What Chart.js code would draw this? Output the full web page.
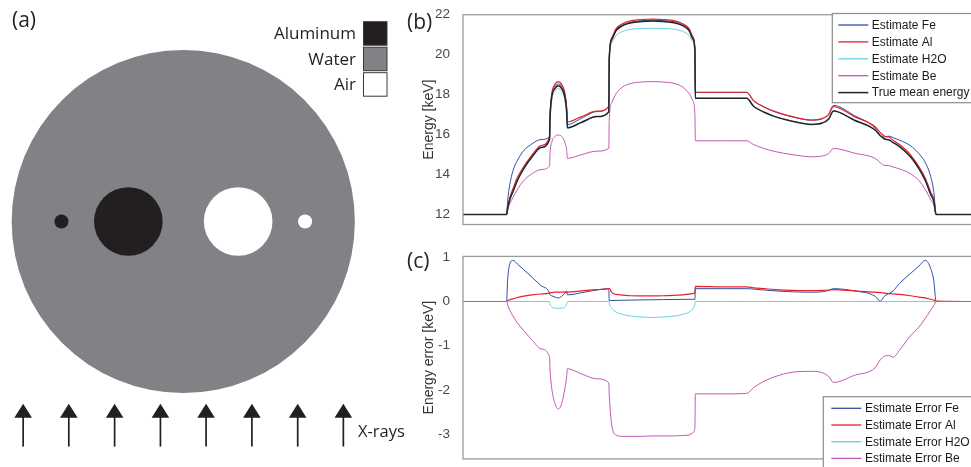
<!DOCTYPE html>
<html>
<head>
<meta charset="utf-8">
<script src="https://cdn.jsdelivr.net/npm/chart.js@4.4.0/dist/chart.umd.min.js"></script>
<style>
html, body { margin: 0; padding: 0; background: #fff; overflow: hidden; width: 971px; height: 467px; }
canvas { position: absolute; }
#phantom { left: 0; top: 0; z-index: 2; }
#energy { left: 400px; top: 0; }
#error { left: 400px; top: 240px; }
</style>
</head>
<body>
<canvas id="energy" width="590" height="240"></canvas>
<canvas id="error" width="590" height="232"></canvas>
<canvas id="phantom" width="430" height="467"></canvas>
<script>
// ---- panel (a): phantom geometry (phantom radius = 10 units) ----
var phantomRadius = 10;
var insertX = [-7.1, -3.2, 3.2, 7.1];
var insertR = [0.41, 2.0, 2.0, 0.41];
var insertMaterial = ['Aluminum', 'Aluminum', 'Air', 'Air'];
var materials = ['Aluminum', 'Water', 'Air'];
var arrowX = [-9.33, -6.67, -4.0, -1.33, 1.33, 4.0, 6.67, 9.33];
var arrowTip = -10.63;
var arrowTail = -13.12;

// ---- panels (b) and (c): detector position ----
var position = [-12.5, -10.0, -9.95, -9.85, -9.7, -9.5, -9.2, -8.8, -8.4, -8.0,
    -7.98, -7.9, -7.75, -7.59, -7.43, -7.28, -7.2, -7.17,
    -6.5, -5.8, -5.24,
    -5.22, -5.1, -4.9, -4.6, -4.2, -3.7, -3.2, -2.7, -2.2, -1.8, -1.5, -1.33, -1.23,
    -1.21, 0.0, 1.18,
    1.5, 2.0, 2.5, 3.3, 4.2, 4.7, 5.0, 5.22,
    6.2, 7.16,
    7.4, 7.6, 7.8, 8.0,
    8.3, 8.8, 9.2, 9.5, 9.75, 9.9, 10.0, 12.5];

var energyFe = [12, 12, 12.7, 13.5, 14.2, 14.7, 15.2, 15.55, 15.75, 15.9,
    16.85, 17.97, 18.4, 18.53, 18.4, 17.97, 17.25, 16.5,
    16.82, 17.15, 17.41,
    19.78, 20.78, 21.23, 21.48, 21.63, 21.7, 21.72, 21.7, 21.65, 21.5, 21.25, 20.85, 20.25,
    18.11, 18.11, 18.11,
    17.7, 17.38, 17.14, 16.89, 16.72, 16.8, 17.02, 17.46,
    16.95, 16.33,
    15.95, 15.88, 15.92, 15.85,
    15.72, 15.45, 15.05, 14.6, 13.9, 13.1, 12, 12];
var energyAl = [12, 12, 12.4, 12.85, 13.3, 13.85, 14.4, 15.0, 15.45, 15.9,
    16.8, 18.0, 18.5, 18.65, 18.5, 18.05, 17.3, 16.63,
    16.9, 17.17, 17.4,
    19.9, 20.85, 21.3, 21.55, 21.7, 21.76, 21.78, 21.76, 21.7, 21.55, 21.3, 20.9, 20.3,
    18.12, 18.12, 18.12,
    17.7, 17.37, 17.15, 16.9, 16.73, 16.8, 17.0, 17.4,
    16.9, 16.39,
    16.1, 15.92, 15.88, 15.72,
    15.5, 15.0, 14.4, 13.82, 13.12, 12.75, 12, 12];
var energyH2O = [12, 12, 12.3, 12.75, 13.15, 13.7, 14.3, 14.9, 15.35, 15.76,
    16.6, 17.7, 18.15, 18.3, 18.15, 17.7, 17.0, 16.34,
    16.62, 16.9, 17.13,
    19.7, 20.6, 20.96, 21.16, 21.27, 21.31, 21.32, 21.31, 21.27, 21.16, 20.96, 20.65, 20.1,
    17.82, 17.82, 17.82,
    17.42, 17.12, 16.9, 16.67, 16.51, 16.58, 16.78, 17.18,
    16.72, 16.23,
    15.95, 15.78, 15.74, 15.6,
    15.4, 14.9, 14.3, 13.7, 13.0, 12.65, 12, 12];
var energyBe = [12, 12, 12.25, 12.55, 12.85, 13.25, 13.7, 14.05, 14.25, 14.43,
    15.0, 15.6, 15.9, 15.98, 15.9, 15.6, 15.2, 14.81,
    15.0, 15.17, 15.31,
    16.7, 17.6, 18.05, 18.38, 18.56, 18.63, 18.65, 18.63, 18.56, 18.38, 18.05, 17.7, 17.0,
    15.69, 15.69, 15.69,
    15.5, 15.3, 15.15, 15.0, 14.89, 14.93, 15.05, 15.31,
    15.07, 14.81,
    14.6, 14.46, 14.45, 14.38,
    14.28, 14.05, 13.7, 13.25, 12.75, 12.45, 12, 12];
var energyTrue = [12, 12, 12.3, 12.75, 13.15, 13.7, 14.3, 14.9, 15.35, 15.76,
    16.7, 17.85, 18.3, 18.45, 18.3, 17.85, 17.1, 16.34,
    16.62, 16.9, 17.13,
    19.75, 20.75, 21.2, 21.45, 21.6, 21.66, 21.68, 21.66, 21.6, 21.45, 21.2, 20.8, 20.2,
    17.82, 17.82, 17.82,
    17.42, 17.12, 16.9, 16.67, 16.51, 16.58, 16.78, 17.18,
    16.72, 16.23,
    15.95, 15.78, 15.74, 15.6,
    15.4, 14.9, 14.3, 13.7, 13.0, 12.65, 12, 12];

var errorFe = [0, 0, 0.5, 0.85, 0.93, 0.85, 0.72, 0.54, 0.36, 0.19,
    0.15, 0.13, 0.1, 0.08, 0.12, 0.19, 0.24, 0.15,
    0.2, 0.26, 0.29,
    0.02, 0.022, 0.025, 0.028, 0.032, 0.036, 0.04, 0.043, 0.046, 0.048, 0.05, 0.05, 0.05,
    0.29, 0.29, 0.29,
    0.28, 0.26, 0.24, 0.22, 0.21, 0.22, 0.25, 0.29,
    0.24, 0.12,
    0.01, 0.12, 0.18, 0.24,
    0.41, 0.63, 0.8, 0.93, 0.75, 0.45, 0, 0];
var errorAl = [0, 0, 0.02, 0.04, 0.06, 0.09, 0.12, 0.15, 0.17, 0.19,
    0.2, 0.2, 0.21, 0.21, 0.21, 0.21, 0.21, 0.21,
    0.24, 0.27, 0.29,
    0.3, 0.2, 0.16, 0.145, 0.13, 0.125, 0.125, 0.13, 0.14, 0.15, 0.165, 0.18, 0.2,
    0.34, 0.33, 0.33,
    0.31, 0.29, 0.27, 0.25, 0.245, 0.25, 0.26, 0.27,
    0.24, 0.21,
    0.2, 0.19, 0.18, 0.17,
    0.16, 0.13, 0.1, 0.08, 0.05, 0.03, 0.01, 0];
var errorH2O = [0, 0, 0, 0, 0, 0, 0, 0, 0, 0,
    -0.06, -0.12, -0.15, -0.155, -0.15, -0.12, -0.06, 0,
    0, 0, 0,
    -0.05, -0.15, -0.24, -0.29, -0.33, -0.35, -0.36, -0.35, -0.33, -0.29, -0.24, -0.17, -0.06,
    0, 0, 0,
    0, 0, 0, 0, 0, 0, 0, 0,
    0, 0,
    0, 0, 0, 0,
    0, 0, 0, 0, 0, 0, 0, 0];
var errorBe = [0, 0, -0.08, -0.2, -0.33, -0.48, -0.66, -0.88, -1.07, -1.25,
    -1.5, -1.95, -2.3, -2.43, -2.3, -1.95, -1.7, -1.52,
    -1.64, -1.75, -1.84,
    -2.1, -2.8, -3.02, -3.05, -3.05, -3.05, -3.04, -3.04, -3.04, -3.03, -3.02, -2.97, -2.85,
    -2.09, -2.09, -2.08,
    -1.95, -1.8, -1.7, -1.6, -1.58, -1.61, -1.7, -1.83,
    -1.67, -1.5,
    -1.32, -1.24, -1.22, -1.26,
    -1.1, -0.78, -0.58, -0.38, -0.2, -0.09, 0, 0];

var energyTicks = [12, 14, 16, 18, 20, 22];
var errorTicks = [-3, -2, -1, 0, 1];
var energyLabels = ['Estimate Fe', 'Estimate Al', 'Estimate H2O', 'Estimate Be', 'True mean energy'];
var errorLabels = ['Estimate Error Fe', 'Estimate Error Al', 'Estimate Error H2O', 'Estimate Error Be'];

var colors = ['#2d4fa3', '#e8202a', '#62d2e8', '#c357b2', '#1d2628'];
var widths = [1, 1.2, 1, 1, 1.5];
var materialColor = { Aluminum: '#231f20', Water: '#808285', Air: '#ffffff' };
var axisFont = '"Liberation Sans", Arial, sans-serif';
var figFont = '"Open Sans", "Noto Sans", sans-serif';

Chart.defaults.font.family = axisFont;

function toPoints(values) {
    return position.map(function (x, i) { return { x: x, y: values[i] }; });
}

function radiusPx(c) {
    if (!c.raw) return 0;
    var s = c.chart.scales.x;
    return Math.abs(s.getPixelForValue(c.raw.r) - s.getPixelForValue(0));
}

// ---- panel (a) ----
var phantomDecor = {
    id: 'phantomDecor',
    afterDatasetsDraw: function (chart) {
        var ctx = chart.ctx, sx = chart.scales.x, sy = chart.scales.y;
        ctx.save();
        ctx.fillStyle = '#231f20';
        ctx.strokeStyle = '#231f20';
        ctx.lineWidth = 1.7;
        var tip = sy.getPixelForValue(arrowTip), tail = sy.getPixelForValue(arrowTail);
        arrowX.forEach(function (ax) {
            var px = sx.getPixelForValue(ax);
            ctx.beginPath();
            ctx.moveTo(px, tip + 12);
            ctx.lineTo(px, tail);
            ctx.stroke();
            ctx.beginPath();
            ctx.moveTo(px, tip);
            ctx.lineTo(px + 8.8, tip + 14);
            ctx.lineTo(px - 8.8, tip + 14);
            ctx.closePath();
            ctx.fill();
        });
        ctx.font = '16.5px ' + figFont;
        ctx.textBaseline = 'alphabetic';
        ctx.textAlign = 'left';
        ctx.fillText('X-rays', 358, 437);
        ctx.font = '21px ' + figFont;
        ctx.fillText('(a)', 12, 27);
        // material legend
        ctx.font = '17px ' + figFont;
        ctx.textAlign = 'right';
        materials.forEach(function (m, i) {
            var top = 21.7 + i * 25.5;
            ctx.fillStyle = materialColor[m];
            ctx.fillRect(363.5, top, 23.5, 23.5);
            ctx.strokeStyle = '#3a3a3a';
            ctx.lineWidth = 1;
            ctx.strokeRect(363.5, top, 23.5, 23.5);
            ctx.fillStyle = '#231f20';
            ctx.fillText(m, 356, top + 17.5);
        });
        ctx.restore();
    }
};

new Chart(document.getElementById('phantom'), {
    type: 'scatter',
    data: {
        datasets: [{
            label: 'Inserts',
            data: insertX.map(function (x, i) { return { x: x, y: 0, r: insertR[i] }; }),
            pointBackgroundColor: insertMaterial.map(function (m) { return materialColor[m]; }),
            pointRadius: radiusPx,
            pointBorderWidth: 0,
            order: 0
        }, {
            label: 'Water',
            data: [{ x: 0, y: 0, r: phantomRadius }],
            pointBackgroundColor: materialColor.Water,
            pointRadius: radiusPx,
            pointBorderWidth: 0,
            order: 1
        }]
    },
    options: {
        responsive: false,
        animation: false,
        devicePixelRatio: 1,
        events: [],
        layout: { padding: 0 },
        plugins: { legend: { display: false }, tooltip: { enabled: false } },
        scales: {
            x: { type: 'linear', min: -10.68, max: 14.38, display: false },
            y: { type: 'linear', min: -14.31, max: 12.91, display: false }
        }
    },
    plugins: [phantomDecor]
});

// ---- panels (b) and (c) ----
function panelDecor(cfg) {
    return {
        id: 'panelDecor',
        afterDatasetsDraw: function (chart) {
            var ctx = chart.ctx, a = chart.chartArea;
            ctx.save();
            ctx.strokeStyle = '#9b9b9b';
            ctx.lineWidth = 1.3;
            ctx.strokeRect(a.left, a.top, a.right - a.left, a.bottom - a.top);
            ctx.fillStyle = '#262626';
            ctx.font = '21px ' + figFont;
            ctx.textAlign = 'left';
            ctx.textBaseline = 'alphabetic';
            ctx.fillText(cfg.letter, 7, cfg.letterY);
            // legend box
            var lg = cfg.legend;
            ctx.fillStyle = '#ffffff';
            ctx.fillRect(lg.x, lg.y, lg.w, lg.h);
            ctx.strokeStyle = '#8c8c8c';
            ctx.lineWidth = 1.2;
            ctx.strokeRect(lg.x, lg.y, lg.w, lg.h);
            ctx.font = '12px ' + axisFont;
            ctx.textBaseline = 'middle';
            chart.data.datasets.forEach(function (ds, i) {
                var y = lg.row0 + i * lg.step;
                ctx.strokeStyle = ds.borderColor;
                ctx.lineWidth = Math.max(ds.borderWidth, 1.3);
                ctx.beginPath();
                ctx.moveTo(lg.x + lg.line0, y);
                ctx.lineTo(lg.x + lg.line1, y);
                ctx.stroke();
                ctx.fillStyle = '#1a1a1a';
                ctx.fillText(ds.label, lg.x + lg.text, y + 0.5);
            });
            // axis title
            ctx.fillStyle = '#333333';
            ctx.font = '14px ' + axisFont;
            ctx.translate(a.left - 34, (a.top + a.bottom) / 2);
            ctx.rotate(-Math.PI / 2);
            ctx.textAlign = 'center';
            ctx.fillText(cfg.title, 0, 0);
            ctx.restore();
        }
    };
}

function lineDatasets(labels, series) {
    return series.map(function (vals, i) {
        return {
            label: labels[i],
            data: toPoints(vals),
            borderColor: colors[i],
            borderWidth: widths[i],
            pointRadius: 0,
            cubicInterpolationMode: 'monotone',
            order: series.length - i
        };
    });
}

function panelOptions(yMin, yMax, ticks, padding) {
    return {
        responsive: false,
        animation: false,
        devicePixelRatio: 1,
        events: [],
        layout: { padding: padding },
        plugins: { legend: { display: false }, tooltip: { enabled: false } },
        scales: {
            x: { type: 'linear', min: -12.03, max: 12, display: false },
            y: {
                min: yMin, max: yMax,
                afterFit: function (s) { s.width = 63; },
                afterBuildTicks: function (s) { s.ticks = ticks.map(function (v) { return { value: v }; }); },
                grid: { display: false },
                border: { display: false },
                ticks: { color: '#4a4a4a', font: { size: 13.5 }, padding: 5 }
            }
        }
    };
}

new Chart(document.getElementById('energy'), {
    type: 'line',
    data: { datasets: lineDatasets(energyLabels, [energyFe, energyAl, energyH2O, energyBe, energyTrue]) },
    options: panelOptions(11.5, 22, energyTicks, { top: 14.7, right: 11, bottom: 15.5, left: 0 }),
    plugins: [panelDecor({
        letter: '(b)', letterY: 28.5, title: 'Energy [keV]',
        legend: { x: 432.3, y: 13.5, w: 170, h: 89.2, row0: 25, step: 16.9, line0: 6, line1: 36, text: 39.5 }
    })]
});

new Chart(document.getElementById('error'), {
    type: 'line',
    data: { datasets: lineDatasets(errorLabels, [errorFe, errorAl, errorH2O, errorBe]) },
    options: panelOptions(-3.56, 1.02, errorTicks, { top: 16.4, right: 11, bottom: 1.8, left: 0 }),
    plugins: [panelDecor({
        letter: '(c)', letterY: 27.5, title: 'Energy error [keV]',
        legend: { x: 423.3, y: 156.7, w: 180, h: 90, row0: 168.3, step: 16.7, line0: 8, line1: 38, text: 41.7 }
    })]
});
</script>
</body>
</html>
